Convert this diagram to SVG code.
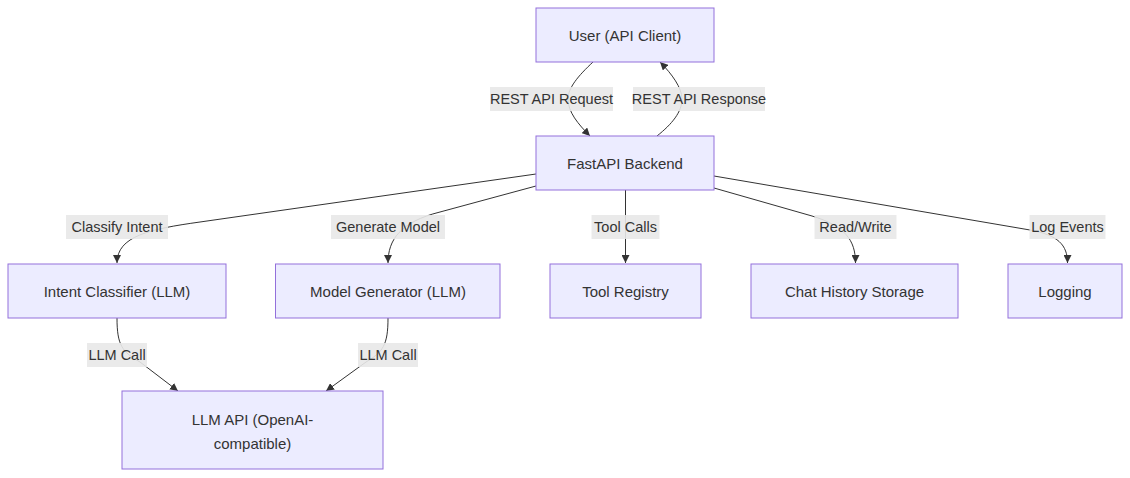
<svg xmlns="http://www.w3.org/2000/svg" width="1130" height="478" viewBox="0 0 1130 478">
<style>
.node rect{fill:#ECECFF;stroke:#9370DB;stroke-width:1px}
.node text,.lbl text{font-family:"Trebuchet MS","Liberation Sans",Arial,sans-serif;font-size:15px;fill:#333;text-anchor:middle;dominant-baseline:central}
.lbl text{font-size:14.5px}
.edge{fill:none;stroke:#333;stroke-width:1px;marker-end:url(#arrow)}
.lbl rect{fill:#e8e8e8;opacity:0.9}
</style>
<defs>
<marker id="arrow" viewBox="0 0 10 10" refX="10" refY="5" markerWidth="8" markerHeight="8" markerUnits="userSpaceOnUse" orient="auto">
<path d="M0,0 L10,5 L0,10 z" fill="#333"/>
</marker>
</defs>
<rect width="1130" height="478" fill="#fff"/>
<g id="connectors">
<path class="edge" d="M593,62 C578,76 568,88 568,99 C568,112 578,124 590,136"/>
<path class="edge" d="M657,136 C672,124 682,112 682,99 C682,88 672,74 660,62"/>
<path class="edge" d="M536,174 L200,222 C150,229 117,236 117,263"/>
<path class="edge" d="M536,186 L440,212 C400,222 388,240 388,263"/>
<path class="edge" d="M625.5,190 L625.5,263"/>
<path class="edge" d="M714,188 L812,216 C845,226 855.5,240 855.5,263"/>
<path class="edge" d="M714,176 L1030,230 C1058,235 1067.5,245 1067.5,263"/>
<path class="edge" d="M117,318 C117,345 122,352 140,362 L178,391"/>
<path class="edge" d="M388,318 C388,345 383,352 366,362 L326,391"/>
</g>
<g id="edge-labels">
<g class="lbl"><rect x="490" y="87" width="123" height="24"/><text x="551.5" y="99">REST API Request</text></g>
<g class="lbl"><rect x="633" y="87" width="132" height="24"/><text x="699" y="99">REST API Response</text></g>
<g class="lbl"><rect x="66" y="215" width="102" height="24"/><text x="117" y="227">Classify Intent</text></g>
<g class="lbl"><rect x="331" y="215" width="114" height="24"/><text x="388" y="227">Generate Model</text></g>
<g class="lbl"><rect x="591.5" y="215" width="68" height="24"/><text x="625.5" y="227">Tool Calls</text></g>
<g class="lbl"><rect x="814.5" y="215" width="82" height="24"/><text x="855.5" y="227">Read/Write</text></g>
<g class="lbl"><rect x="1029.5" y="215" width="76" height="24"/><text x="1067.5" y="227">Log Events</text></g>
<g class="lbl"><rect x="87" y="343" width="60" height="24"/><text x="117" y="355">LLM Call</text></g>
<g class="lbl"><rect x="358" y="343" width="60" height="24"/><text x="388" y="355">LLM Call</text></g>
</g>
<g id="user" class="node"><rect x="536" y="8" width="178" height="54"/><text x="625" y="35">User (API Client)</text></g>
<g id="fastapi" class="node"><rect x="536" y="136" width="178" height="54"/><text x="625" y="163">FastAPI Backend</text></g>
<g id="intent" class="node"><rect x="8" y="264" width="218" height="54"/><text x="117" y="291">Intent Classifier (LLM)</text></g>
<g id="modelgen" class="node"><rect x="275.5" y="264" width="224.5" height="54"/><text x="388" y="291">Model Generator (LLM)</text></g>
<g id="tools" class="node"><rect x="550" y="264" width="151" height="54"/><text x="625.5" y="291">Tool Registry</text></g>
<g id="history" class="node"><rect x="751" y="264" width="207" height="54"/><text x="854.5" y="291">Chat History Storage</text></g>
<g id="logging" class="node"><rect x="1008" y="264" width="114" height="54"/><text x="1065" y="291">Logging</text></g>
<g id="llmapi" class="node"><rect x="122" y="391" width="261" height="78"/><text x="252.5" y="419">LLM API (OpenAI-</text><text x="252.5" y="443">compatible)</text></g>
</svg>
